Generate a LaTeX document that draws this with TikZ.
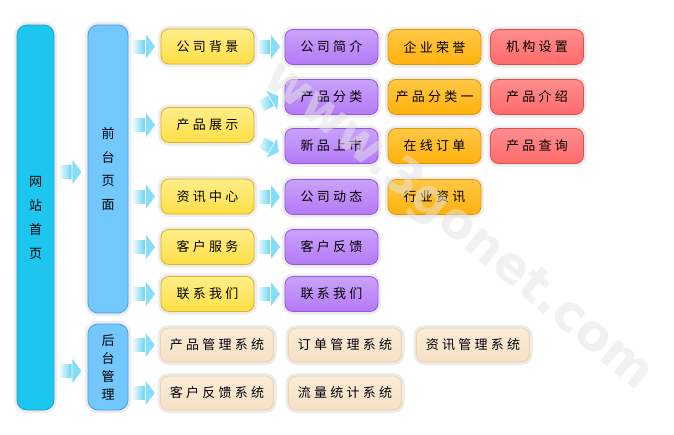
\documentclass[tikz,border=0pt]{standalone}
\usepackage{fontspec}
\usetikzlibrary{calc}
\newfontfamily\cjk[LetterSpace=25]{Noto Sans CJK SC}
\newfontfamily\cjkv{Noto Sans CJK SC}
\newfontfamily\wmfont{DejaVu Sans}
\definecolor{yelF}{HTML}{FFDF45}
\definecolor{yelT}{HTML}{FFEE8A}
\definecolor{yelB}{HTML}{D9B22A}
\definecolor{purF}{HTML}{B47AF6}
\definecolor{purT}{HTML}{C9A2FA}
\definecolor{purB}{HTML}{9457E3}
\definecolor{oraF}{HTML}{FFB10C}
\definecolor{oraT}{HTML}{FFC845}
\definecolor{oraB}{HTML}{DE9A0A}
\definecolor{redF}{HTML}{FF6A6A}
\definecolor{redT}{HTML}{FF8E8E}
\definecolor{redB}{HTML}{DD4F4F}
\definecolor{begF}{HTML}{F6E1C4}
\definecolor{begT}{HTML}{FAEBD8}
\definecolor{begB}{HTML}{EDD2AC}
\definecolor{cyaF}{HTML}{1CC6EE}
\definecolor{cyaB}{HTML}{1AA3CF}
\definecolor{lbuF}{HTML}{72C7FD}
\definecolor{lbuB}{HTML}{4A9FE3}
\definecolor{arrC}{HTML}{5FD2F1}
\definecolor{arrH}{HTML}{86DDF6}
\definecolor{halo}{HTML}{ECECEC}
\tikzset{
  box/.style={rounded corners=8pt, minimum height=35pt, minimum width=93pt,
    inner sep=0pt, font=\cjk\fontsize{13}{15}\selectfont, line width=0.8pt,
    preaction={draw=halo, line width=6pt}},
  yel/.style={box, draw=yelB, top color=yelT, bottom color=yelF},
  pur/.style={box, draw=purB, top color=purT, bottom color=purF},
  ora/.style={box, draw=oraB, top color=oraT, bottom color=oraF},
  red/.style={box, draw=redB, top color=redT, bottom color=redF},
  beg/.style={box, draw=begB, top color=begT, bottom color=begF,
    minimum width=113pt, minimum height=34pt},
  pillar/.style={rounded corners=10pt, inner sep=0pt, line width=0.8pt,
    align=center, preaction={draw=halo, line width=6pt}},
  arrpic/.pic={
    \path[left color=white!85!arrC, right color=arrC]
      (-11,-6.5) rectangle (1.5,6.5);
    \path[fill=arrH, draw=white, line width=0.6pt]
      (1,-13.5) -- (11,0) -- (1,13.5) -- cycle;
  }
}
\begin{document}
\begin{tikzpicture}[x=1pt,y=-1pt]
\useasboundingbox[fill=white] (0,0) rectangle (674,434);

% pillars
\node[pillar, fill=cyaF, draw=cyaB, minimum width=37pt, minimum height=385pt,
  font=\cjkv\fontsize{13}{24}\selectfont] (site) at (35.5,217.5) {网\\站\\首\\页};
\node[pillar, fill=lbuF, draw=lbuB, minimum width=40pt, minimum height=288pt,
  font=\cjkv\fontsize{13}{23.5}\selectfont] (front) at (108,169) {前\\台\\页\\面};
\node[pillar, fill=lbuF, draw=lbuB, minimum width=40pt, minimum height=86pt,
  font=\cjkv\fontsize{13}{18}\selectfont] (back) at (108,367) {后\\台\\管\\理};

% column 1
\node[yel] (bg) at (207.5,46.5) {公司背景};
\node[yel] (zs) at (207.5,125) {产品展示};
\node[yel] (zx) at (207.5,196.5) {资讯中心};
\node[yel] (kf) at (207.5,247) {客户服务};
\node[yel] (lx) at (207.5,294) {联系我们};

% column 2
\node[pur] (jj) at (331.5,47) {公司简介};
\node[pur] (fl) at (331.5,97) {产品分类};
\node[pur] (xp) at (331.5,146) {新品上市};
\node[pur] (dt) at (331.5,197) {公司动态};
\node[pur] (fk) at (331.5,247) {客户反馈};
\node[pur] (lx2) at (331.5,294) {联系我们};

% column 3
\node[ora] (ry) at (434.5,47) {企业荣誉};
\node[ora] (fl1) at (434.5,97) {产品分类一};
\node[ora] (dd) at (434.5,146) {在线订单};
\node[ora] (hy) at (434.5,197) {行业资讯};

% column 4
\node[red] (jg) at (537,47) {机构设置};
\node[red] (js) at (537,97) {产品介绍};
\node[red] (cx) at (537,146) {产品查询};

% back-end systems
\node[beg] (s1) at (217,345) {产品管理系统};
\node[beg] (s2) at (345,345) {订单管理系统};
\node[beg] (s3) at (473,345) {资讯管理系统};
\node[beg] (s4) at (217,393) {客户反馈系统};
\node[beg] (s5) at (345,393) {流量统计系统};

% arrows
\coordinate (a0) at (site.east|-front.center);
\pic (ar0) at ($(a0)!0.5!(front.west)+(0,3)$) {arrpic};
\coordinate (b0) at (site.east|-back.center);
\pic (br0) at ($(b0)!0.5!(back.west)+(0,4)$) {arrpic};
\foreach \n in {bg,zs,zx,kf,lx}{
  \coordinate (c\n) at (front.east|-\n.west);
  \pic (ar\n) at ($(c\n)!0.5!(\n.west)$) {arrpic};
}
\foreach \n in {s1,s4}{
  \coordinate (c\n) at (back.east|-\n.west);
  \pic (ar\n) at ($(c\n)!0.5!(\n.west)$) {arrpic};
}
\pic (arjj) at ($(bg.east)!0.5!(jj.west)$) {arrpic};
\pic (ardt) at ($(zx.east)!0.5!(dt.west)$) {arrpic};
\pic (arfk) at ($(kf.east)!0.5!(fk.west)$) {arrpic};
\pic (arlx) at ($(lx.east)!0.5!(lx2.west)$) {arrpic};
\pic[rotate=30, scale=0.9] (arfl) at ($(zs.east)!0.5!(fl.west)+(1,-10)$) {arrpic};
\pic[rotate=-28, scale=0.9] (arxp) at ($(zs.east)!0.5!(xp.west)+(1,12)$) {arrpic};

% watermark
\node[rotate=-39.5, font=\wmfont\bfseries\fontsize{50}{50}\selectfont,
  text=black!10, text opacity=0.5] (wm) at (458,226) {www.3gonet.com};
\end{tikzpicture}
\end{document}
